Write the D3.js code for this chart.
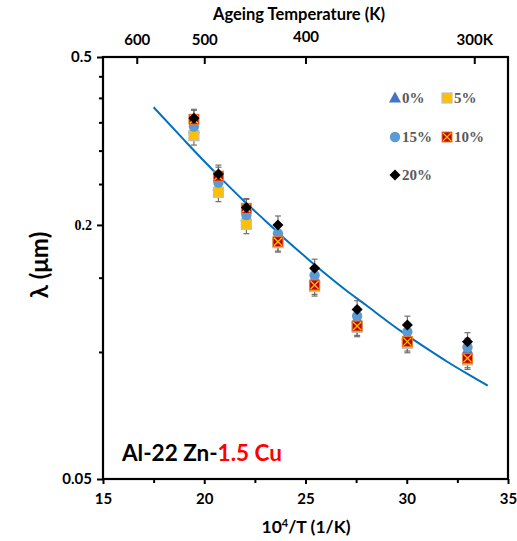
<!DOCTYPE html>
<html><head><meta charset="utf-8">
<script src="https://cdn.jsdelivr.net/npm/d3@7"></script>
<style>
body{margin:0;background:#fff;}
svg{display:block;}
</style></head>
<body><svg id="c" width="517" height="541"></svg>
<script>
// ---- data ----
const agingTempsK = [513, 483, 453, 423, 393, 363, 333, 303];
const invT = [19.49, 20.70, 22.08, 23.64, 25.45, 27.55, 30.03, 33.00]; // 10^4/T
const series0 = [0.338, 0.247, 0.209, 0.189, 0.1495, 0.120, 0.1097, 0.1011];
const series5 = [0.3255, 0.239, 0.2007, 0.1815, 0.1428, 0.1144, 0.1048, 0.0957];
const series15 = [0.342, 0.252, 0.211, 0.191, 0.152, 0.1217, 0.1117, 0.1026];
const series10 = [0.356, 0.261, 0.219, 0.1825, 0.1441, 0.1152, 0.1058, 0.0966];
const series20 = [0.358, 0.264, 0.220, 0.200, 0.158, 0.126, 0.1158, 0.1058];
const errorFraction = 0.05;
const fitX = [17.5, 19, 20, 21, 22, 23, 24, 25, 26, 27, 28, 29, 30, 31, 32, 33, 34];
const fitY = [0.380, 0.318, 0.283, 0.253, 0.227, 0.205, 0.185, 0.168, 0.153, 0.140, 0.129, 0.1186, 0.1096, 0.1018, 0.0948, 0.0887, 0.0832];
const xTicks = [15, 20, 25, 30, 35];
const xMinorTicks = [17.5, 22.5, 27.5, 32.5];
const yTicks = [0.5, 0.2, 0.05];
const yTickLabels = ["0.5", "0.2", "0.05"];
const yMinorTicks = [0.1, 0.15, 0.25, 0.3, 0.35, 0.4, 0.45];
const topTempTicks = [600, 500, 400, 300];
const topTempLabels = ["600", "500", "400", "300K"];
const seriesNames = ["0%", "5%", "15%", "10%", "20%"];

const svg = d3.select("#c");
const L = 103, R = 508, T = 57, B = 479;
const x = d3.scaleLinear().domain([15, 35]).range([L, R]);
const y = d3.scaleLog().domain([0.05, 0.5]).range([B, T]);
const FONT = "Lato, 'Open Sans', sans-serif";
const SERIF = "'Liberation Serif', 'DejaVu Serif', serif";

// frame
svg.append("rect").attr("x", L).attr("y", T).attr("width", R - L).attr("height", B - T)
  .attr("fill", "none").attr("stroke", "#000").attr("stroke-width", 2.2);

// bottom axis
const gB = svg.append("g").attr("transform", `translate(0,${B})`)
  .call(d3.axisBottom(x).tickValues(xTicks).tickSize(5).tickPadding(9).tickFormat(d3.format("d")));
svg.append("g").attr("transform", `translate(0,${B})`)
  .call(d3.axisBottom(x).tickValues(xMinorTicks).tickSize(4).tickFormat(""));
// left axis
const gL = svg.append("g").attr("transform", `translate(${L},0)`)
  .call(d3.axisLeft(y).tickValues(yTicks).tickSize(6).tickPadding(5).tickFormat((d, i) => yTickLabels[i]));
svg.append("g").attr("transform", `translate(${L},0)`)
  .call(d3.axisLeft(y).tickValues(yMinorTicks).tickSize(4).tickFormat(""));
// top axis (temperature)
const gT = svg.append("g").attr("transform", `translate(0,${T})`)
  .call(d3.axisTop(x).tickValues(topTempTicks.map(t => 1e4 / t)).tickSize(-7).tickPadding(12)
    .tickFormat((d, i) => topTempLabels[i]));

svg.selectAll(".domain").remove();
svg.selectAll(".tick line").attr("stroke", "#000").attr("stroke-width", 2);
svg.selectAll(".tick text").attr("fill", "#000").attr("font-family", FONT)
  .attr("font-weight", "bold").attr("font-size", 15);
gL.selectAll(".tick text").filter(d => d === 0.2).attr("font-family", SERIF).attr("font-size", 14);
gT.selectAll(".tick text").filter(d => Math.abs(d - 25) < 1e-6).attr("dy", "-0.2em");

// titles
svg.append("text").attr("x", 299).attr("y", 20).attr("text-anchor", "middle")
  .attr("font-family", FONT).attr("font-weight", "bold").attr("font-size", 16.5)
  .text("Ageing Temperature (K)");
const xt = svg.append("text").attr("x", 306).attr("y", 533).attr("text-anchor", "middle")
  .attr("font-family", FONT).attr("font-weight", "bold").attr("font-size", 17.5);
xt.append("tspan").text("10");
xt.append("tspan").attr("dy", -6).attr("font-size", 11).text("4");
xt.append("tspan").attr("dy", 6).text("/T (1/K)");
svg.append("text").attr("transform", "translate(48,265) rotate(-90)").attr("text-anchor", "middle")
  .attr("font-family", FONT).attr("font-weight", "bold").attr("font-size", 24)
  .text("λ (μm)");

// alloy label
const al = svg.append("text").attr("x", 122).attr("y", 461)
  .attr("font-family", FONT).attr("font-weight", "bold").attr("font-size", 22.5);
al.append("tspan").attr("fill", "#000").text("Al-22 Zn-");
al.append("tspan").attr("fill", "#ff0000").text("1.5 Cu");

// fit curve
const line = d3.line().x(d => x(d[0])).y(d => y(d[1])).curve(d3.curveMonotoneX);
svg.append("path").datum(fitX.map((v, i) => [v, fitY[i]]))
  .attr("d", line).attr("fill", "none").attr("stroke", "#0070C0").attr("stroke-width", 2);

// markers
function drawMarker(g, type, cx, cy) {
  if (type === "tri") {
    g.append("path").attr("d", `M${cx},${cy - 6.5}L${cx + 6},${cy + 4.5}L${cx - 6},${cy + 4.5}Z`)
      .attr("fill", "#4472C4");
  } else if (type === "sq") {
    g.append("rect").attr("x", cx - 5).attr("y", cy - 5).attr("width", 10).attr("height", 10)
      .attr("fill", "#FFC000").attr("stroke", "#BFBFBF").attr("stroke-width", 1.2);
  } else if (type === "circ") {
    g.append("circle").attr("cx", cx).attr("cy", cy).attr("r", 5.2).attr("fill", "#5B9BD5");
  } else if (type === "xsq") {
    g.append("rect").attr("x", cx - 5).attr("y", cy - 5).attr("width", 10).attr("height", 10)
      .attr("fill", "#C00000").attr("stroke", "#ED7D31").attr("stroke-width", 1);
    g.append("path").attr("d", `M${cx - 4},${cy - 4}L${cx + 4},${cy + 4}M${cx + 4},${cy - 4}L${cx - 4},${cy + 4}`)
      .attr("stroke", "#FFC000").attr("stroke-width", 1.3);
  } else if (type === "dia") {
    g.append("path").attr("d", `M${cx},${cy - 5.5}L${cx + 5.5},${cy}L${cx},${cy + 5.5}L${cx - 5.5},${cy}Z`)
      .attr("fill", "#000");
  }
}
const allSeries = [
  {name: seriesNames[0], vals: series0, type: "tri"},
  {name: seriesNames[1], vals: series5, type: "sq"},
  {name: seriesNames[2], vals: series15, type: "circ"},
  {name: seriesNames[3], vals: series10, type: "xsq"},
  {name: seriesNames[4], vals: series20, type: "dia"}
];
allSeries.forEach(s => {
  const g = svg.append("g");
  s.vals.forEach((v, i) => {
    const cx = x(invT[i]);
    const y1 = y(v * (1 + errorFraction)), y2 = y(v * (1 - errorFraction));
    g.append("line").attr("x1", cx).attr("x2", cx).attr("y1", y1).attr("y2", y2)
      .attr("stroke", "#6F6F6F").attr("stroke-width", 1.2);
    g.append("line").attr("x1", cx - 3).attr("x2", cx + 3).attr("y1", y1).attr("y2", y1)
      .attr("stroke", "#6F6F6F").attr("stroke-width", 1.2);
    g.append("line").attr("x1", cx - 3).attr("x2", cx + 3).attr("y1", y2).attr("y2", y2)
      .attr("stroke", "#6F6F6F").attr("stroke-width", 1.2);
  });
});
allSeries.forEach(s => {
  const g = svg.append("g");
  s.vals.forEach((v, i) => drawMarker(g, s.type, x(invT[i]), y(v)));
});

// legend
const legPos = [[395, 98], [447, 98], [395, 137], [447, 137], [395, 175]];
allSeries.forEach((s, i) => {
  const g = svg.append("g");
  const [lx, ly] = legPos[i];
  drawMarker(g, s.type, lx, ly);
  g.append("text").attr("x", lx + 7).attr("y", ly + 5)
    .attr("font-family", SERIF).attr("font-weight", "bold").attr("font-size", 15)
    .attr("fill", "#595959").text(s.name);
});
</script></body></html>
